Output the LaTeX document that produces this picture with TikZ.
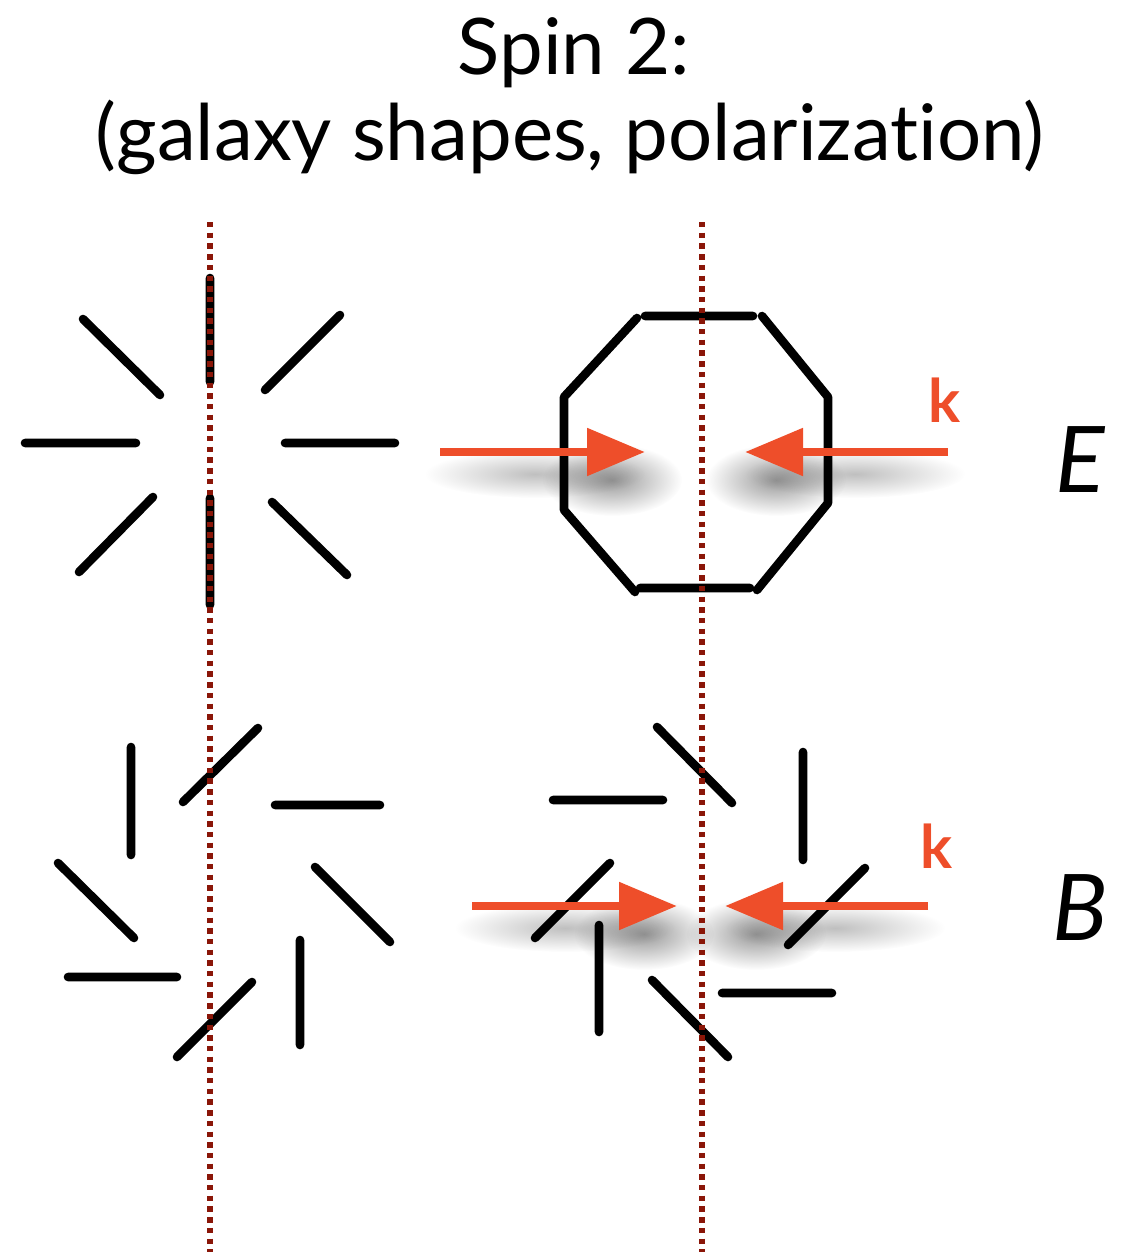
\documentclass[tikz,border=0pt]{standalone}
\usepackage{fontspec}
\setmainfont[Ligatures=NoCommon]{Lato}
\usetikzlibrary{arrows.meta,fadings}
\definecolor{kfarbe}{HTML}{EE4E2A}
\definecolor{achsrot}{HTML}{8A1608}
\newcommand{\titelgr}{\fontsize{39}{46}\selectfont}
\newcommand{\kgr}{\fontsize{30}{32}\selectfont\bfseries}
\newcommand{\modgr}{\fontsize{46}{50}\selectfont\itshape}
\tikzfading[name=weich,inner color=transparent!0,outer color=transparent!100]
\tikzset{strich/.style={line width=4.3pt,line cap=round,line join=round},
  achse/.style={achsrot,line width=2.8pt,dash pattern=on 2.7pt off 2.65pt},
  kpfeil/.style={kfarbe,line width=4.3pt,-{Triangle[length=29pt,width=23pt]}},
  schatten/.style={black,path fading=weich}}

\begin{document}
\begin{tikzpicture}[x=0.5pt,y=-0.5pt]
\useasboundingbox (0,0) rectangle (1130,1252);
\node[anchor=base,inner sep=0,font=\titelgr] (zeile1) at (574,75) {Spin 2:};
\node[anchor=base,inner sep=0,font=\titelgr] (zeile2) at (570,160) {(galaxy shapes, polarization)};
% E mode
\draw[strich] (210,278) -- (210,382) (210,498) -- (210,605)
  (25,443) -- (136,443) (285,443) -- (395,443)
  (83,319) -- (160,395) (265,390) -- (340,315)
  (153,497) -- (79,572) (272,502) -- (347,575);
\draw[strich] (645,316) -- (753,316) (640,588) -- (750,588)
  (762,316) -- (828,397) -- (828,503) -- (757,590)
  (635,592) -- (564,510) -- (564,397) -- (637,318);
\fill[schatten,opacity=.25] (535,474) ellipse (110 and 24);
\fill[schatten,opacity=.25] (855,474) ellipse (110 and 24);
\fill[schatten,opacity=.4] (612,480) ellipse (70 and 36);
\fill[schatten,opacity=.4] (776,480) ellipse (70 and 36);
\coordinate (eLs) at (440,452);
\coordinate (eLt) at (645,452);
\coordinate (eRs) at (948,452);
\coordinate (eRt) at (745,452);
\draw[kpfeil] (eLs) -- (eLt);
\draw[kpfeil] (eRs) -- (eRt);
\node[anchor=base,inner sep=0,text=kfarbe,font=\kgr] (kE) at (945,422) {k};
\node[anchor=base,inner sep=0,font=\modgr] (modE) at (1080,492) {E};
% B mode
\draw[strich] (131,747) -- (131,855) (183,802) -- (258,728)
  (275,805) -- (380,805) (58,863) -- (134,938)
  (315,867) -- (390,942) (68,977) -- (177,977)
  (177,1057) -- (252,982) (300,940) -- (300,1045);
\draw[strich] (657,727) -- (732,803) (553,800) -- (663,800)
  (803,752) -- (803,860) (535,938) -- (610,863)
  (788,945) -- (865,868) (599,925) -- (599,1032)
  (652,980) -- (728,1057) (722,993) -- (832,993);
\fill[schatten,opacity=.25] (565,928) ellipse (110 and 24);
\fill[schatten,opacity=.25] (835,928) ellipse (110 and 24);
\fill[schatten,opacity=.4] (644,934) ellipse (70 and 36);
\fill[schatten,opacity=.4] (756,934) ellipse (70 and 36);
\coordinate (bLs) at (472,906);
\coordinate (bLt) at (677,906);
\coordinate (bRs) at (928,906);
\coordinate (bRt) at (725,906);
\draw[kpfeil] (bLs) -- (bLt);
\draw[kpfeil] (bRs) -- (bRt);
\node[anchor=base,inner sep=0,text=kfarbe,font=\kgr] (kB) at (937,868) {k};
\node[anchor=base,inner sep=0,font=\modgr] (modB) at (1080,940) {B};
% Symmetrieachsen
\coordinate (a1o) at (210,222);
\coordinate (a1u) at (210,1252);
\coordinate (a2o) at (702,222);
\coordinate (a2u) at (702,1252);
\draw[achse] (a1o) -- (a1u) (a2o) -- (a2u);
\end{tikzpicture}
\end{document}
